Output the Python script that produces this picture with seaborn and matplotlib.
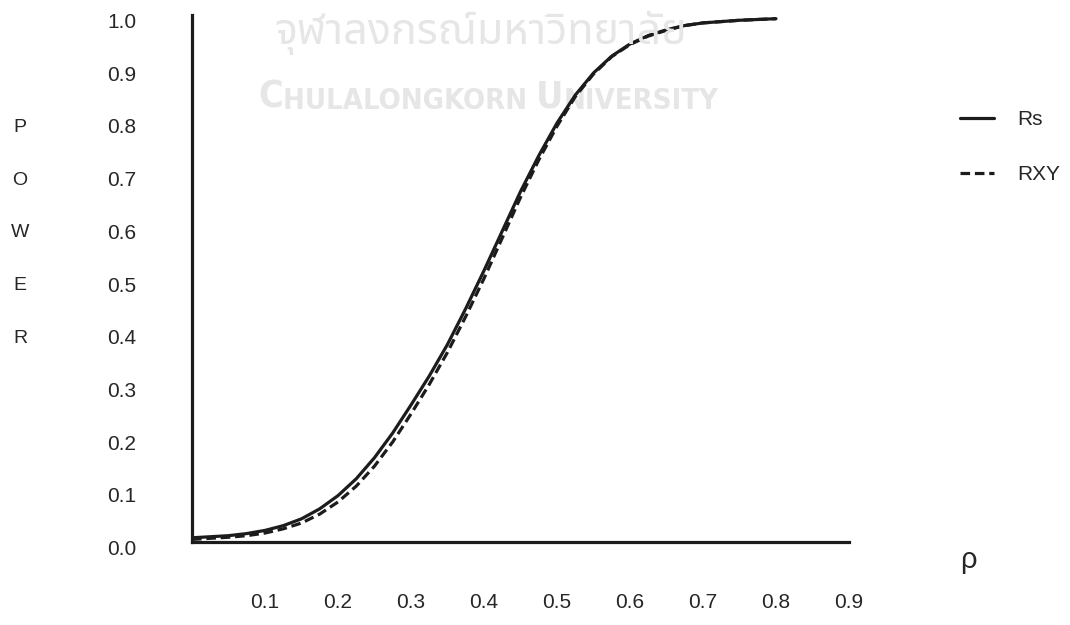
import matplotlib
matplotlib.use("Agg")
import matplotlib.pyplot as plt
import matplotlib.transforms as mtransforms
import pandas as pd
import seaborn as sns

# Power of the two correlation tests against the true correlation rho
rho = [0.000, 0.025, 0.050, 0.075, 0.100, 0.125, 0.150, 0.175, 0.200,
       0.225, 0.250, 0.275, 0.300, 0.325, 0.350, 0.375, 0.400, 0.425,
       0.450, 0.475, 0.500, 0.525, 0.550, 0.575, 0.600, 0.625, 0.650,
       0.675, 0.700, 0.750, 0.800]
power_rs = [0.008, 0.010, 0.012, 0.016, 0.022, 0.031, 0.044, 0.063, 0.088,
            0.120, 0.160, 0.207, 0.260, 0.315, 0.375, 0.443, 0.515, 0.590,
            0.665, 0.733, 0.795, 0.848, 0.890, 0.922, 0.945, 0.961, 0.972,
            0.980, 0.985, 0.990, 0.993]
power_rxy = [0.005, 0.007, 0.009, 0.012, 0.017, 0.025, 0.036, 0.053, 0.076,
             0.106, 0.144, 0.190, 0.243, 0.299, 0.360, 0.428, 0.500, 0.577,
             0.654, 0.725, 0.789, 0.845, 0.888, 0.921, 0.944, 0.960, 0.971,
             0.980, 0.985, 0.990, 0.993]
series_names = ["Rs", "RXY"]

x_ticks = [0.1, 0.2, 0.3, 0.4, 0.5, 0.6, 0.7, 0.8, 0.9]
y_ticks = [0.0, 0.1, 0.2, 0.3, 0.4, 0.5, 0.6, 0.7, 0.8, 0.9, 1.0]
axis_letters = ["P", "O", "W", "E", "R"]
letter_rows = [0.8, 0.7, 0.6, 0.5, 0.4]
watermark_th = "จุฬาลงกรณ์มหาวิทยาลัย"
# English line is set in small caps: (text, is_capital)
watermark_en = [("C", True), ("HULALONGKORN ", False), ("U", True), ("NIVERSITY", False)]

sns.set_style("white")
plt.rcParams["font.family"] = ["Liberation Sans", "DejaVu Sans"]

INK = "#1c1c1c"
TEXT = "#262626"
MARK = "#e6e6e6"
FW, FH = 1070, 625

df = pd.DataFrame({
    "rho": rho + rho,
    "power": power_rs + power_rxy,
    "series": [series_names[0]] * len(rho) + [series_names[1]] * len(rho),
})

fig = plt.figure(figsize=(FW / 100, FH / 100), dpi=100)
fig.patch.set_facecolor("white")

# faint university watermark behind the chart
fig.text(481 / FW, 1 - 33 / FH, watermark_th, color=MARK, fontsize=31,
         fontweight="bold", ha="center", va="center",
         family=["Noto Sans Thai", "Noto Sans Thai UI", "Noto Serif Thai",
                 "Loma", "Garuda", "Kinnari", "Norasi", "Sawasdee",
                 "Tlwg Typo", "Waree", "Umpush", "FreeSans", "DejaVu Sans"],
         zorder=0)

ax = fig.add_axes([192 / FW, 1 - 542 / FH, (849 - 192) / FW, (542 - 15) / FH])
ax.patch.set_alpha(0)

prev = None
for piece, big in watermark_en:
    kw = dict(color=MARK, fontsize=27 if big else 21, fontweight="bold",
              fontstretch="condensed", family=["DejaVu Sans"],
              ha="left", va="bottom", zorder=0, annotation_clip=False)
    if prev is None:
        prev = ax.annotate(piece, xy=(258 / FW, 1 - 115 / FH),
                           xycoords="figure fraction", **kw)
    else:
        prev = ax.annotate(piece, xy=(1, 0), xycoords=prev, **kw)

sns.lineplot(data=df, x="rho", y="power", style="series",
             dashes={series_names[0]: "", series_names[1]: (3, 1.5)},
             color=INK, linewidth=2.3, ax=ax, legend=False)

ax.set_xlim(0, 0.9)
ax.set_ylim(0, 1.0)
ax.set_xlabel("")
ax.set_ylabel("")
for side in ("top", "right"):
    ax.spines[side].set_visible(False)
for side in ("left", "bottom"):
    ax.spines[side].set_color(INK)
    ax.spines[side].set_linewidth(2.3)

ax.set_xticks(x_ticks)
ax.set_xticklabels([f"{v:.1f}" for v in x_ticks])
ax.set_yticks(y_ticks)
ax.set_yticklabels([f"{v:.1f}" for v in y_ticks])
ax.tick_params(axis="both", direction="in", length=5, width=2, color=INK,
               labelcolor=TEXT, labelsize=15)
ax.tick_params(axis="x", pad=36.5)
ax.tick_params(axis="y", pad=40)

# value labels on the power axis sit a little below their ticks
drop = mtransforms.ScaledTranslation(0, -4 / 72, fig.dpi_scale_trans)
for lab in ax.get_yticklabels():
    lab.set_transform(lab.get_transform() + drop)

# vertical "POWER" caption, one letter per row
blend = mtransforms.blended_transform_factory(fig.transFigure, ax.transData)
letter_drop = mtransforms.ScaledTranslation(0, -5 / 72, fig.dpi_scale_trans)
for letter, yv in zip(axis_letters, letter_rows):
    ax.text(20 / FW, yv, letter, transform=blend + letter_drop, fontsize=14,
            color=TEXT, ha="center", va="center")

fig.text(968 / FW, 1 - 560 / FH, "ρ", fontsize=21, color=TEXT,
         ha="center", va="center")

lines = ax.get_lines()[:2]
fig.legend(lines, series_names, loc="upper left",
           bbox_to_anchor=(960 / FW, 1 - 110 / FH), frameon=False,
           handlelength=1.65, handletextpad=1.1, labelspacing=1.75,
           fontsize=15, borderpad=0, borderaxespad=0, labelcolor=TEXT)

fig.savefig("out.png", dpi=100, facecolor="white")
